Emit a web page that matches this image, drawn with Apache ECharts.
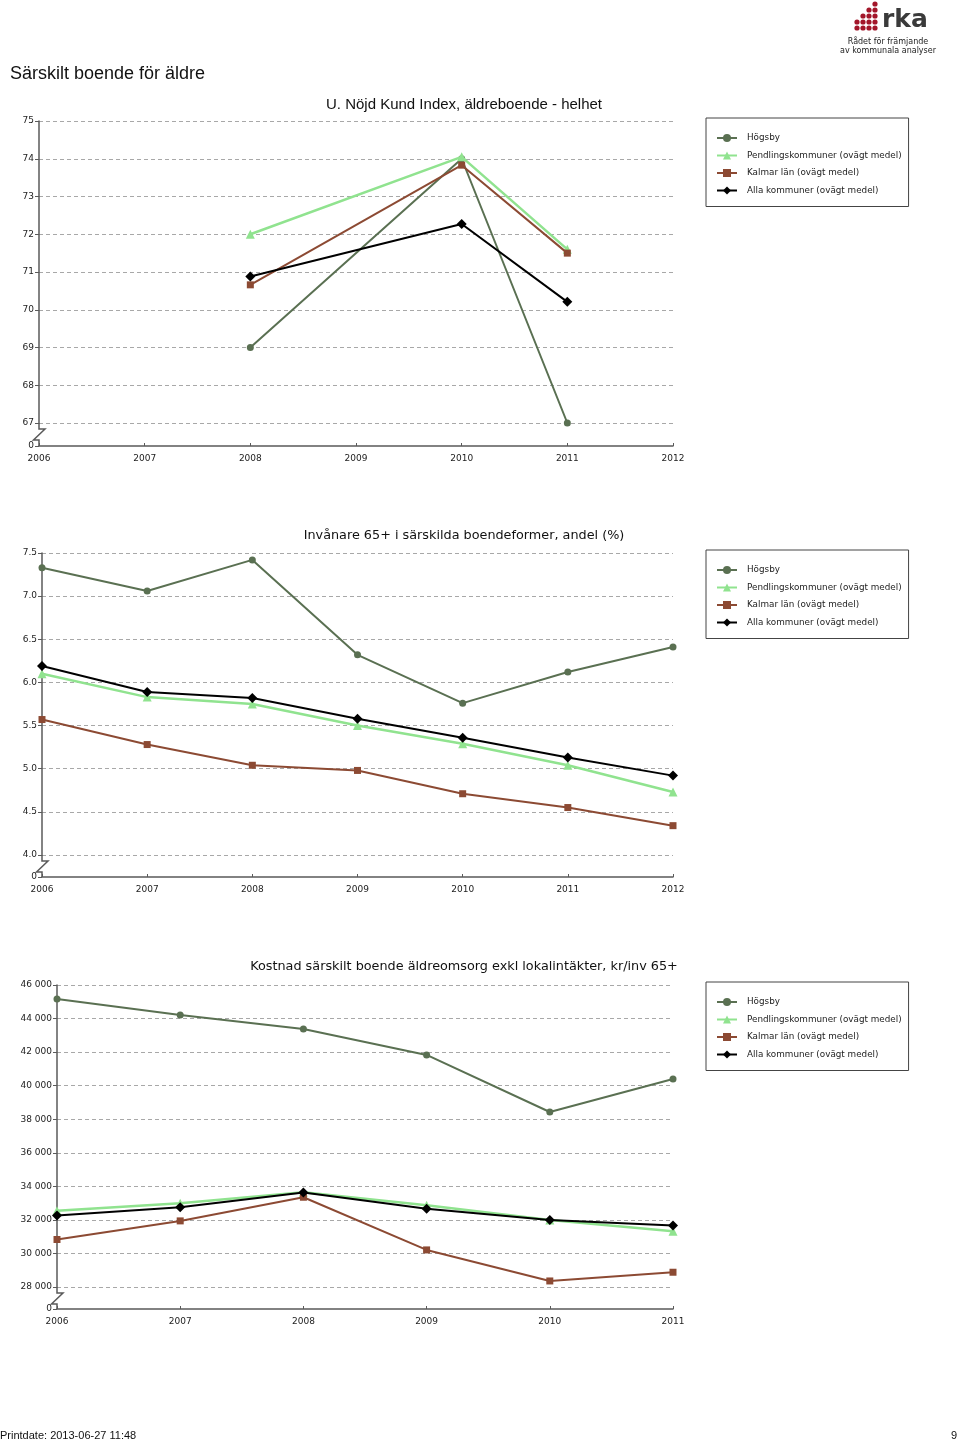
<!DOCTYPE html>
<html><head><meta charset="utf-8">
<script src="https://cdn.jsdelivr.net/npm/echarts@6/dist/echarts.min.js"></script>
<style>html,body{margin:0;padding:0;background:#fff}#c{width:960px;height:1442px}</style>
</head><body><div id="c"></div><script>
// ---------- data ----------
const seriesNames = ['Högsby', 'Pendlingskommuner (ovägt medel)', 'Kalmar län (ovägt medel)', 'Alla kommuner (ovägt medel)'];

const years1 = ['2006', '2007', '2008', '2009', '2010', '2011', '2012'];
const hogsby1 = [null, null, 69.0, null, 74.0, 67.0, null];
const pendling1 = [null, null, 72.0, null, 74.05, 71.6, null];
const kalmar1 = [null, null, 70.66, null, 73.83, 71.5, null];
const alla1 = [null, null, 70.88, null, 72.27, 70.21, null];

const years2 = ['2006', '2007', '2008', '2009', '2010', '2011', '2012'];
const hogsby2 = [7.33, 7.06, 7.42, 6.32, 5.76, 6.12, 6.41];
const pendling2 = [6.10, 5.83, 5.75, 5.50, 5.29, 5.04, 4.73];
const kalmar2 = [5.57, 5.28, 5.04, 4.98, 4.71, 4.55, 4.34];
const alla2 = [6.19, 5.89, 5.82, 5.58, 5.36, 5.13, 4.92];

const years3 = ['2006', '2007', '2008', '2009', '2010', '2011'];
const hogsby3 = [45170, 44210, 43380, 41830, 38430, 40400];
const pendling3 = [32550, 32990, 33650, 32870, 32000, 31320];
const kalmar3 = [30830, 31940, 33350, 30210, 28360, 28880];
const alla3 = [32260, 32750, 33630, 32670, 32000, 31660];

const titles = [
  'U. Nöjd Kund Index, äldreboende - helhet',
  'Invånare 65+ i särskilda boendeformer, andel (%)',
  'Kostnad särskilt boende äldreomsorg exkl lokalintäkter, kr/inv 65+'
];
const pageTitle = 'Särskilt boende för äldre';
const footerText = 'Printdate: 2013-06-27 11:48';
const pageNumber = '9';

// ---------- styles ----------
const colors = ['#5a7052', '#90e38f', '#8c4a33', '#000000'];
const symbols = ['circle', 'triangle', 'rect', 'diamond'];
const symbolSizes = [7, 9, 7, 10];
const lineWidths = [2, 2.5, 2, 2];
const axisColor = '#5a5a5a';
const labelFont = {fontFamily: 'DejaVu Sans', fontSize: 9, color: '#222'};
const subTitleFont = {fontFamily: 'DejaVu Sans', fontSize: 12.8, fontWeight: 'normal', color: '#111'};

const charts = [
  {cats: years1, data: [hogsby1, pendling1, kalmar1, alla1], left: 39, top: 121, height: 302, brk: 23,
   min: 67, max: 75, interval: 1, fmt: v => String(v),
   title: titles[0], titleTop: 97, titleFont: {fontFamily: 'Liberation Sans', fontSize: 15, fontWeight: 'normal', color: '#111'}, legendTop: 118},
  {cats: years2, data: [hogsby2, pendling2, kalmar2, alla2], left: 42, top: 553, height: 302, brk: 22,
   min: 4.0, max: 7.5, interval: 0.5, fmt: v => v.toFixed(1),
   title: titles[1], titleTop: 529, titleFont: subTitleFont, legendTop: 550},
  {cats: years3, data: [hogsby3, pendling3, kalmar3, alla3], left: 57, top: 985, height: 302, brk: 22,
   min: 28000, max: 46000, interval: 2000, fmt: v => String(v).replace(/\B(?=(\d{3})+(?!\d))/g, ' '),
   title: titles[2], titleTop: 960, titleFont: subTitleFont, legendTop: 982}
];

const grid = [], xAxis = [], yAxis = [], series = [], legend = [], title = [], graphic = [];
const RIGHT = 287;

charts.forEach((c, i) => {
  grid.push({left: c.left, right: RIGHT, top: c.top, height: c.height});
  grid.push({left: c.left, right: RIGHT, top: c.top + c.height, height: c.brk});
  xAxis.push({gridIndex: 2 * i, type: 'category', data: c.cats, boundaryGap: false, show: false});
  xAxis.push({gridIndex: 2 * i + 1, type: 'category', data: c.cats, boundaryGap: false,
    axisLine: {show: true, lineStyle: {color: axisColor, width: 1.5}},
    axisTick: {show: true, inside: true, length: 3, interval: 0, lineStyle: {color: axisColor}},
    axisLabel: Object.assign({margin: 8, interval: 0}, labelFont),
    splitLine: {show: false}});
  yAxis.push({gridIndex: 2 * i, type: 'value', min: c.min, max: c.max, interval: c.interval,
    axisLine: {show: true, lineStyle: {color: axisColor, width: 1.5}},
    axisTick: {show: true, length: 4, lineStyle: {color: axisColor}},
    axisLabel: Object.assign({margin: 5, formatter: c.fmt}, labelFont),
    splitLine: {show: true, lineStyle: {color: '#a8a8a8', width: 1, type: [4, 3]}}});
  yAxis.push({gridIndex: 2 * i + 1, type: 'value', min: 0, max: 1, interval: 1,
    axisLine: {show: false},
    axisTick: {show: true, length: 4, lineStyle: {color: axisColor}},
    axisLabel: Object.assign({margin: 5, formatter: v => (v === 0 ? '0' : '')}, labelFont),
    splitLine: {show: false}});
  seriesNames.forEach((n, s) => {
    series.push({name: n, type: 'line', xAxisIndex: 2 * i, yAxisIndex: 2 * i, data: c.data[s],
      connectNulls: true, symbol: symbols[s], symbolSize: symbolSizes[s], showAllSymbol: true,
      lineStyle: {color: colors[s], width: lineWidths[s]}, itemStyle: {color: colors[s]},
      emphasis: {disabled: true}, animation: false, z: 2 + s});
  });
  legend.push({orient: 'vertical', left: 706, top: c.legendTop, padding: [15, 7, 11, 10],
    borderColor: '#444', borderWidth: 1, itemWidth: 20, itemHeight: 10, itemGap: 7.5,
    textStyle: {fontFamily: 'DejaVu Sans', fontSize: 8.8, color: '#222', lineHeight: 10, padding: [0, 0, 0, 5]},
    data: seriesNames, selectedMode: false});
  title.push({text: c.title, left: 464, top: c.titleTop, textAlign: 'center', padding: 0, textStyle: c.titleFont});
  // axis break zigzag (decoration)
  const x = c.left, y0 = c.top + c.height, y1 = y0 + c.brk;
  graphic.push({type: 'polyline', silent: true, z: 10,
    shape: {points: [[x, y0], [x, y0 + 6], [x + 6, y0 + 6], [x - 5.5, y0 + 17], [x, y0 + 17], [x, y1]]},
    style: {stroke: axisColor, lineWidth: 1.5, fill: null}});
});

title.push({text: pageTitle, left: 10, top: 65, padding: 0, textStyle: {fontFamily: 'Liberation Sans', fontSize: 18, fontWeight: 'normal', color: '#111'}});
title.push({text: footerText, left: 0, top: 1430, padding: 0, textStyle: {fontFamily: 'Liberation Sans Narrow, Liberation Sans', fontSize: 11, fontWeight: 'normal', color: '#111'}});
title.push({text: pageNumber, right: 3, top: 1430, padding: 0, textStyle: {fontFamily: 'Liberation Sans Narrow, Liberation Sans', fontSize: 11, fontWeight: 'normal', color: '#111'}});

// logo (decoration)
const logoCols = [[857, 2], [863, 3], [869, 4], [875, 5]];
logoCols.forEach(([lx, n]) => {
  for (let r = 0; r < n; r++) {
    graphic.push({type: 'circle', silent: true, shape: {cx: lx, cy: 28 - r * 6, r: 2.6}, style: {fill: '#a3162a'}});
  }
});
graphic.push({type: 'text', silent: true, left: 882, top: 8, style: {text: 'rka', font: 'bold 25px "DejaVu Sans"', fill: '#3a3a3a'}});
graphic.push({type: 'text', silent: true, x: 888, y: 42, style: {text: 'Rådet för främjande', font: '8px "DejaVu Sans"', fill: '#222', align: 'center', verticalAlign: 'middle'}});
graphic.push({type: 'text', silent: true, x: 888, y: 51, style: {text: 'av kommunala analyser', font: '8px "DejaVu Sans"', fill: '#222', align: 'center', verticalAlign: 'middle'}});

const chart = echarts.init(document.getElementById('c'), null, {renderer: 'canvas'});
chart.setOption({backgroundColor: '#fff', animation: false, title, legend, grid, xAxis, yAxis, series, graphic});
</script></body></html>
